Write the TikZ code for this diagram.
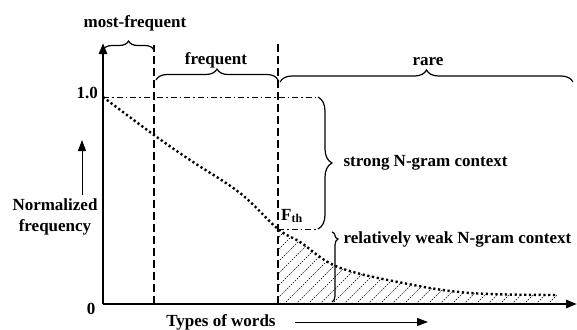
\documentclass[tikz,border=0pt]{standalone}
\usepackage{fontspec}
\setmainfont{Liberation Serif}
\usetikzlibrary{arrows.meta, decorations.pathreplacing, calc}

\begin{document}
\begin{tikzpicture}[
		x=1pt, y=-1pt, % pixel-like grid, y pointing down
		font=\bfseries\fontsize{17}{21}\selectfont,
		>={Triangle[length=11pt, width=8pt]},
		axis/.style={line width=2.4pt},
		bound/.style={line width=1.3pt, dash pattern=on 8pt off 4pt},
		level/.style={line width=0.8pt, dash pattern=on 6pt off 3pt on 1.5pt off 3pt},
		curly/.style={line width=1.2pt, decorate, decoration={brace, amplitude=#1}},
		curly/.default=8pt,
		hatchline/.style={line width=0.5pt, dash pattern=on 1.5pt off 1.2pt},
		freq/.style={line width=2.4pt, dash pattern=on 2.2pt off 2.6pt}
		]
		
		\useasboundingbox (0,0) rectangle (577,329);
		
		% --- 1. Key points ---
		\coordinate (O) at (103,304);
		\coordinate (ytop) at (103,43);
		\coordinate (xend) at (577,304);
		\coordinate (b1) at (154,304);
		\coordinate (b1top) at (154,45);
		\coordinate (b2) at (278,304);
		\coordinate (b2top) at (278,43);
		\coordinate (one) at (103,97);
		\coordinate (oneend) at (318,97);
		\coordinate (fth) at (278,229);
		\coordinate (fthend) at (318,229);
		
		% --- 2. Hatched tail under the curve ---
		\begin{scope}
			\clip (fth) -- plot[smooth, tension=0.6] coordinates {
				(278,229) (300,242) (338,267) (403,283) (470,293) (557,295)
			} -- (557,304) -- (b2) -- cycle;
			\foreach \i in {0,...,32} {
				\draw[hatchline] (200+\i*12, 304) -- ++(90,-90);
			}
		\end{scope}
		
		% --- 3. Boundaries and levels ---
		\draw[bound] (b1) -- (b1top);
		\draw[bound] (b2) -- (b2top);
		\draw[level] (one) -- (oneend);
		\draw[level] (fth) -- (fthend);
		
		% --- 4. Frequency curve ---
		\draw[freq] plot[smooth, tension=0.6] coordinates {
			(103,97) (154,135) (190,160) (240,193) (278,229)
			(300,242) (338,267) (403,283) (470,293) (557,295)
		};
		
		% --- 5. Axes ---
		\draw[axis, ->] (O) -- (ytop);
		\draw[axis, ->] (O) -- (xend);
		
		% --- 6. Braces ---
		\coordinate (m1) at (103,50);
		\coordinate (m2) at (154,50);
		\coordinate (f1) at (156,80);
		\coordinate (f2) at (278,80);
		\coordinate (r1) at (280,82);
		\coordinate (r2) at (573,82);
		\coordinate (w1) at (332,232);
		\coordinate (w2) at (332,302);
		\draw[curly=9pt] (m1) -- (m2);
		\draw[curly=11pt] (f1) -- (f2);
		\draw[curly=12pt] (r1) -- (r2);
		\draw[curly=14pt] (oneend) -- (fthend);
		\draw[line width=1.2pt, decorate, decoration={brace, amplitude=6pt, aspect=0.1}] (w1) -- (w2);
		
		% --- 7. Labels ---
		\node (mostlbl) at (135,23) {most-frequent};
		\node (freqlbl) at (216,60) {frequent};
		\node (rarelbl) at (428,62) {rare};
		\node[anchor=west] (stronglbl) at (340,163) {strong N-gram context};
		\node[anchor=west] (weaklbl) at (340,239) {relatively weak N-gram context};
		\node[anchor=west, inner sep=1pt] (fthlbl) at (280,216) {F\textsubscript{th}};
		\node[anchor=east, inner sep=2pt] (onelbl) at (100,93) {1.0};
		\node (zerolbl) at (91,309) {0};
		\node[align=center] (ylbl) at (55,217) {Normalized\\frequency};
		\node (xlbl) at (221,322) {Types of words};
		
		% --- 8. Axis direction arrows ---
		\coordinate (ya) at (82,195);
		\coordinate (yb) at (82,140);
		\coordinate (xa) at (295,322);
		\coordinate (xb) at (428,322);
		\draw[line width=1pt, ->] (ya) -- (yb);
		\draw[line width=1pt, ->] (xa) -- (xb);
		
	\end{tikzpicture}
\end{document}
